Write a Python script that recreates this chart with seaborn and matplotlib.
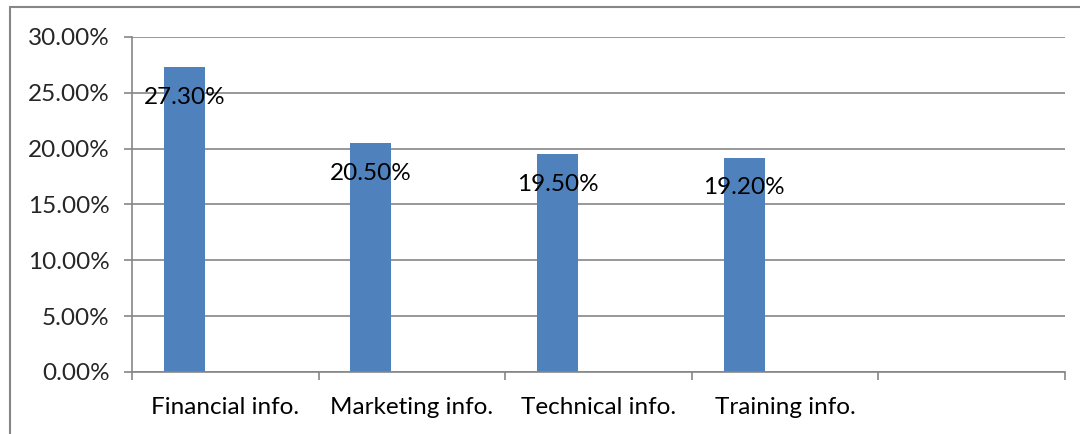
import pandas as pd
import matplotlib.pyplot as plt
import seaborn as sns
from matplotlib.lines import Line2D
from matplotlib.ticker import PercentFormatter, FixedLocator

# Chart data
categories = ["Financial info.", "Marketing info.", "Technical info.", "Training info.", ""]
shares = [0.273, 0.205, 0.195, 0.192]
labels = ["27.30%", "20.50%", "19.50%", "19.20%"]
series = ["Series1", "Series2", "Series3"]

df = pd.DataFrame({"Category": categories[:4], "Share": shares, "Series": "Series1"})

sns.set_style("white")
plt.rcParams["font.family"] = ["Lato", "DejaVu Sans"]

fig = plt.figure(figsize=(10.8, 4.34), dpi=100)
ax = fig.add_axes([132 / 1080, 1 - 372 / 434, (1065 - 132) / 1080, (372 - 37) / 434])

sns.barplot(data=df, x="Category", y="Share", hue="Series", order=categories,
            hue_order=series, width=0.66, dodge=True, palette=["#4F81BD"] * 3,
            legend=False, ax=ax, errorbar=None, saturation=1, edgecolor="none")

ax.set_xlim(-0.5, 4.5)
ax.set_ylim(0, 0.30)
ax.set_yticks([0, 0.05, 0.10, 0.15, 0.20, 0.25, 0.30])
ax.yaxis.set_major_formatter(PercentFormatter(1.0, decimals=2))
ax.grid(axis="y", color="#868686", linewidth=1.2)
ax.set_axisbelow(True)
ax.set_xlabel("")
ax.set_ylabel("")

# category labels centred, tick marks between categories
ax.set_xticks(range(5))
ax.set_xticklabels(categories)
ax.xaxis.set_minor_locator(FixedLocator([-0.5, 0.5, 1.5, 2.5, 3.5, 4.5]))
ax.tick_params(axis="x", which="major", length=0, pad=18, labelsize=17.5, colors="black")
ax.tick_params(axis="x", which="minor", bottom=True, length=6, width=1.2, color="#868686")
ax.tick_params(axis="y", left=True, length=6, width=1.2, color="#868686", labelsize=17.5, pad=10)

for side in ["top", "right"]:
    ax.spines[side].set_visible(False)
for side in ["left", "bottom"]:
    ax.spines[side].set_color("#868686")
    ax.spines[side].set_linewidth(1.2)

# data labels
for bar, text in zip(ax.containers[0], labels):
    ax.annotate(text, (bar.get_x() + bar.get_width() / 2, bar.get_height()),
                xytext=(0, -30), textcoords="offset pixels",
                ha="center", va="center", fontsize=17.5, color="black")

# outer chart border
fig.add_artist(Line2D([10 / 1080, 1], [1 - 7 / 434, 1 - 7 / 434], color="#868686", lw=1.5))
fig.add_artist(Line2D([10 / 1080, 10 / 1080], [0, 1 - 7 / 434], color="#868686", lw=1.5))

fig.savefig("out.png", dpi=100)
